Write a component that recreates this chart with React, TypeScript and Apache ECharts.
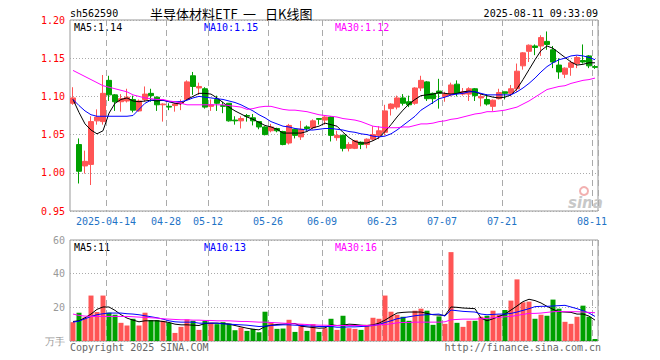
import React, { useEffect, useRef } from 'react';
import * as echarts from 'echarts';

const dates = [
  '2025-04-03','2025-04-07','2025-04-08','2025-04-09','2025-04-10','2025-04-11','2025-04-14','2025-04-15','2025-04-16','2025-04-17',
  '2025-04-18','2025-04-21','2025-04-22','2025-04-23','2025-04-24','2025-04-25','2025-04-28','2025-04-29','2025-04-30','2025-05-06',
  '2025-05-07','2025-05-08','2025-05-09','2025-05-12','2025-05-13','2025-05-14','2025-05-15','2025-05-16','2025-05-19','2025-05-20',
  '2025-05-21','2025-05-22','2025-05-23','2025-05-26','2025-05-27','2025-05-28','2025-05-29','2025-05-30','2025-06-03','2025-06-04',
  '2025-06-05','2025-06-06','2025-06-09','2025-06-10','2025-06-11','2025-06-12','2025-06-13','2025-06-16','2025-06-17','2025-06-18',
  '2025-06-19','2025-06-20','2025-06-23','2025-06-24','2025-06-25','2025-06-26','2025-06-27','2025-06-30','2025-07-01','2025-07-02',
  '2025-07-03','2025-07-04','2025-07-07','2025-07-08','2025-07-09','2025-07-10','2025-07-11','2025-07-14','2025-07-15','2025-07-16',
  '2025-07-17','2025-07-18','2025-07-21','2025-07-22','2025-07-23','2025-07-24','2025-07-25','2025-07-28','2025-07-29','2025-07-30',
  '2025-07-31','2025-08-01','2025-08-04','2025-08-05','2025-08-06','2025-08-07','2025-08-08','2025-08-11'
];

const open = [
  1.091,1.037,1.009,1.011,1.068,1.067,1.121,1.102,1.093,1.094,
  1.096,1.081,1.096,1.104,1.099,1.089,1.087,1.088,1.091,1.096,
  1.127,1.111,1.110,1.087,1.096,1.088,1.091,1.069,1.068,1.075,
  1.072,1.067,1.060,1.055,1.058,1.054,1.039,1.057,1.047,1.060,
  1.059,1.071,1.069,1.073,1.046,1.049,1.032,1.032,1.040,1.037,
  1.044,1.049,1.053,1.084,1.086,1.098,1.093,1.091,1.111,1.119,
  1.104,1.107,1.100,1.102,1.116,1.103,1.103,1.110,1.098,1.096,
  1.087,1.097,1.106,1.104,1.110,1.140,1.159,1.166,1.166,1.172,
  1.161,1.141,1.129,1.138,1.143,1.147,1.153,1.139
];
const close = [
  1.098,1.002,1.015,1.067,1.073,1.104,1.102,1.093,1.097,1.099,
  1.082,1.094,1.103,1.101,1.089,1.090,1.086,1.090,1.093,1.119,
  1.113,1.113,1.086,1.089,1.091,1.087,1.068,1.068,1.071,1.074,
  1.068,1.060,1.050,1.060,1.055,1.037,1.062,1.049,1.057,1.058,
  1.068,1.070,1.073,1.049,1.049,1.032,1.037,1.042,1.037,1.044,
  1.050,1.055,1.081,1.090,1.098,1.091,1.089,1.111,1.121,1.097,
  1.097,1.104,1.103,1.115,1.104,1.106,1.110,1.101,1.100,1.090,
  1.095,1.105,1.104,1.110,1.133,1.157,1.167,1.164,1.177,1.168,
  1.145,1.132,1.137,1.144,1.151,1.145,1.140,1.138
];
const low = [
  1.089,0.986,0.999,0.984,1.063,1.063,1.094,1.081,1.080,1.092,
  1.079,1.080,1.093,1.093,1.081,1.067,1.082,1.080,1.082,1.095,
  1.102,1.102,1.084,1.081,1.081,1.078,1.067,1.063,1.058,1.067,
  1.062,1.057,1.049,1.053,1.053,1.036,1.037,1.045,1.043,1.055,
  1.057,1.063,1.063,1.041,1.042,1.028,1.028,1.031,1.031,1.032,
  1.042,1.044,1.049,1.075,1.083,1.088,1.086,1.089,1.107,1.094,
  1.090,1.084,1.093,1.100,1.100,1.101,1.094,1.094,1.087,1.088,
  1.081,1.096,1.096,1.100,1.106,1.135,1.145,1.154,1.153,1.161,
  1.137,1.123,1.124,1.127,1.137,1.143,1.137,1.136
];
const high = [
  1.112,1.045,1.029,1.074,1.083,1.128,1.127,1.103,1.103,1.110,
  1.101,1.096,1.113,1.110,1.100,1.091,1.091,1.091,1.096,1.121,
  1.132,1.118,1.112,1.096,1.101,1.093,1.091,1.074,1.074,1.077,
  1.077,1.067,1.061,1.064,1.059,1.055,1.064,1.058,1.068,1.062,
  1.070,1.071,1.074,1.074,1.055,1.050,1.040,1.043,1.041,1.045,
  1.061,1.061,1.089,1.091,1.101,1.103,1.101,1.112,1.127,1.120,
  1.105,1.123,1.106,1.118,1.121,1.111,1.112,1.111,1.103,1.103,
  1.096,1.110,1.106,1.115,1.143,1.158,1.168,1.168,1.180,1.185,
  1.166,1.150,1.138,1.147,1.153,1.168,1.154,1.141
];

const ma5 = [
  1.096,1.079,1.064,1.056,1.051,1.055,1.078,1.091,1.096,1.098,
  1.094,1.093,1.094,1.095,1.094,1.095,1.093,1.091,1.090,1.096,
  1.100,1.104,1.104,1.103,1.098,1.092,1.086,1.081,1.077,1.073,
  1.070,1.066,1.062,1.060,1.057,1.052,1.052,1.052,1.052,1.054,
  1.059,1.061,1.065,1.063,1.061,1.053,1.046,1.041,1.039,1.039,
  1.042,1.046,1.054,1.063,1.073,1.082,1.090,1.096,1.101,1.102,
  1.103,1.105,1.104,1.103,1.104,1.106,1.107,1.106,1.103,1.101,
  1.099,1.098,1.099,1.102,1.110,1.122,1.135,1.148,1.160,1.166,
  1.163,1.157,1.151,1.145,1.141,1.142,1.144,1.144
];
const ma10 = [
  1.096,1.088,1.081,1.076,1.074,1.074,1.074,1.074,1.074,1.074,
  1.075,1.083,1.091,1.095,1.096,1.095,1.093,1.093,1.093,1.095,
  1.098,1.100,1.099,1.098,1.097,1.096,1.094,1.092,1.089,1.085,
  1.081,1.076,1.072,1.067,1.064,1.061,1.060,1.058,1.057,1.056,
  1.056,1.057,1.058,1.058,1.057,1.056,1.054,1.053,1.051,1.050,
  1.048,1.047,1.048,1.051,1.056,1.062,1.068,1.074,1.082,1.087,
  1.092,1.097,1.099,1.102,1.103,1.104,1.106,1.106,1.104,1.102,
  1.102,1.102,1.102,1.102,1.106,1.111,1.117,1.124,1.132,1.139,
  1.144,1.148,1.150,1.153,1.154,1.153,1.151,1.148
];
const ma30 = [
  1.134,1.130,1.126,1.122,1.118,1.114,1.112,1.110,1.108,1.106,
  1.102,1.100,1.098,1.097,1.096,1.096,1.094,1.093,1.091,1.089,
  1.089,1.089,1.089,1.089,1.089,1.089,1.088,1.087,1.086,1.083,
  1.084,1.086,1.087,1.087,1.085,1.083,1.082,1.082,1.081,1.080,
  1.078,1.076,1.075,1.074,1.073,1.071,1.070,1.069,1.067,1.064,
  1.061,1.060,1.059,1.059,1.059,1.060,1.060,1.062,1.064,1.064,
  1.065,1.067,1.068,1.070,1.071,1.073,1.075,1.077,1.078,1.080,
  1.080,1.081,1.082,1.084,1.086,1.090,1.094,1.099,1.104,1.109,
  1.111,1.113,1.114,1.117,1.119,1.121,1.122,1.124
];

const volume = [
  11.2,16.8,14.0,27.0,17.2,27.0,16.8,15.6,10.8,9.2,
  13.2,9.2,16.8,12.4,12.4,12.0,10.8,4.8,8.4,12.8,
  12.0,6.6,12.0,10.8,10.0,11.2,10.4,6.4,8.0,6.0,
  7.2,5.2,17.4,11.2,7.2,7.4,12.6,5.4,10.0,6.0,
  10.0,5.4,7.6,13.2,6.6,15.0,7.6,7.2,6.6,9.6,
  13.8,13.2,27.0,17.4,15.6,14.4,12.0,18.0,19.2,18.0,
  9.6,14.6,10.2,52.8,10.8,8.4,12.0,12.0,14.4,15.0,
  18.0,15.6,18.4,24.0,36.6,23.0,23.4,13.2,15.6,15.0,
  24.6,19.2,11.4,10.2,14.4,21.0,14.4,1.2
];
const volMa5 = [
  11.6,12.0,13.8,16.0,18.8,20.2,20.2,18.2,15.6,13.6,
  12.4,11.4,12.0,12.0,12.0,11.6,11.0,10.0,9.6,9.6,
  9.4,9.2,10.4,10.6,10.6,10.4,10.0,9.2,8.4,7.6,
  7.0,6.6,8.6,9.4,9.8,10.0,10.4,10.4,8.8,8.4,
  8.0,7.6,7.8,9.6,9.2,9.4,10.0,9.8,9.4,9.2,
  9.6,10.6,12.4,14.6,16.6,17.0,17.2,17.2,17.2,16.4,
  15.6,15.4,15.2,20.2,20.0,19.6,19.4,19.2,13.6,12.0,
  13.2,14.6,16.0,18.4,20.8,23.4,24.8,24.0,22.6,20.6,
  18.8,17.4,17.2,17.0,16.0,16.0,14.8,12.4
];
const volMa10 = [
  11.2,11.8,13.2,14.6,15.6,16.2,16.6,16.6,16.6,16.2,
  16.0,15.6,15.0,14.4,13.8,13.0,12.0,11.4,11.2,11.2,
  11.2,10.6,10.6,10.6,10.6,10.2,10.0,9.8,9.6,9.4,
  9.0,8.6,8.8,9.2,9.4,9.6,9.6,9.4,9.2,9.0,
  8.8,8.6,8.6,8.6,8.2,8.2,8.4,8.4,8.6,8.8,
  9.2,9.8,11.0,12.0,13.2,13.8,14.4,15.0,15.4,15.6,
  15.8,16.0,14.8,18.4,18.0,17.6,17.4,17.2,16.0,15.6,
  15.8,16.0,16.0,16.4,17.2,18.2,19.2,20.4,20.6,20.6,
  20.8,21.0,21.2,20.2,19.2,18.0,16.6,14.6
];
const volMa30 = [
  16.0,15.2,14.8,14.6,14.6,14.6,14.6,14.6,14.6,14.6,
  14.4,14.2,14.0,13.8,13.6,13.2,13.0,12.8,12.6,12.6,
  12.4,12.4,12.2,12.2,12.0,12.0,12.0,11.8,11.6,11.6,
  11.4,11.2,11.2,11.0,10.8,10.6,10.4,10.2,10.0,9.8,
  9.6,9.4,9.4,9.2,9.2,9.2,9.2,9.2,9.2,9.2,
  9.4,9.6,9.8,10.2,10.8,11.0,11.0,11.2,11.2,11.2,
  11.2,11.2,11.4,12.6,12.8,13.0,13.0,13.0,13.2,13.4,
  13.8,14.0,14.4,14.6,15.2,15.8,16.4,16.4,16.6,17.0,
  17.4,17.6,17.4,17.4,17.4,17.2,17.0,16.8
];

const tickDates = ['2025-04-14','2025-04-28','2025-05-12','2025-05-26','2025-06-09','2025-06-23','2025-07-07','2025-07-21','2025-08-11'];
const tickLabels = ['2025-04-14','04-28','05-12','05-26','06-09','06-23','07-07','07-21','08-11'];

const UP = '#ff5555';
const DOWN = '#00a000';
const MONO = '"DejaVu Sans Mono", monospace';
const CJK = '13px "Noto Sans CJK SC", sans-serif';

export default function App() {
  const ref = useRef<HTMLDivElement>(null);
  useEffect(() => {
    const chart = echarts.init(ref.current!, null, { renderer: 'svg' });
    const tickSet = new Set(tickDates.map((d) => dates.indexOf(d)));
    const vSplit = {
      show: true,
      interval: (i: number) => tickSet.has(i),
      lineStyle: { color: '#aaaaaa', type: [6, 4] as any, width: 1 },
    };
    const hSplit = { show: true, lineStyle: { color: '#aaaaaa', type: [1, 2] as any, width: 1 } };
    const txt = (text: string, x: number, y: number, fill: string, align = 'left', font = `10px ${MONO}`) => ({
      type: 'text', x, y, silent: true,
      style: { text, fill, font, align, verticalAlign: 'middle', textAlign: align, textVerticalAlign: 'middle' },
    });
    const lineSeries = (name: string, data: number[], color: string, xi: number) => ({
      name, type: 'line', data, xAxisIndex: xi, yAxisIndex: xi, showSymbol: false, symbol: 'none',
      lineStyle: { color, width: 1 }, z: 5, silent: true,
    });
    chart.setOption({
      animation: false,
      backgroundColor: '#ffffff',
      grid: [
        { left: 70, top: 20, width: 528, height: 191, show: true, borderColor: '#999999', borderWidth: 1, backgroundColor: 'transparent' },
        { left: 70, top: 240, width: 528, height: 101, show: true, borderColor: '#999999', borderWidth: 1, backgroundColor: 'transparent' },
      ],
      xAxis: [
        {
          type: 'category', gridIndex: 0, data: dates, boundaryGap: true,
          axisLine: { show: false }, axisTick: { show: false },
          axisLabel: {
            show: true, interval: (i: number) => tickSet.has(i), color: '#1f74c6', fontFamily: MONO, fontSize: 10, margin: 5,
            padding: [0, 6, 0, 0],
            formatter: (v: string) => { const k = tickDates.indexOf(v); return k >= 0 ? tickLabels[k] : ''; },
          },
          splitLine: vSplit,
        },
        {
          type: 'category', gridIndex: 1, data: dates, boundaryGap: true,
          axisLine: { show: false }, axisTick: { show: false }, axisLabel: { show: false },
          splitLine: vSplit,
        },
      ],
      yAxis: [
        {
          type: 'value', gridIndex: 0, min: 0.95, max: 1.2, interval: 0.05,
          axisLine: { show: false }, axisTick: { show: false },
          axisLabel: { color: '#ff0000', fontFamily: MONO, fontSize: 10, margin: 5, formatter: (v: number) => v.toFixed(2) },
          splitLine: hSplit,
        },
        {
          type: 'value', gridIndex: 1, min: 0, max: 60, interval: 20,
          axisLine: { show: false }, axisTick: { show: false },
          axisLabel: { color: '#999999', fontFamily: MONO, fontSize: 10, margin: 5, formatter: (v: number) => (v === 0 ? '万手' : String(v)) },
          splitLine: hSplit,
        },
      ],
      series: [
        {
          name: 'K', type: 'candlestick', xAxisIndex: 0, yAxisIndex: 0, barWidth: 5,
          data: dates.map((_, i) => [open[i], close[i], low[i], high[i]]),
          itemStyle: { color: UP, color0: DOWN, borderColor: UP, borderColor0: DOWN, borderWidth: 1 },
          z: 3,
        },
        lineSeries('MA5', ma5, '#000000', 0),
        lineSeries('MA10', ma10, '#0000ff', 0),
        lineSeries('MA30', ma30, '#ff00ff', 0),
        {
          name: 'VOL', type: 'bar', xAxisIndex: 1, yAxisIndex: 1, barWidth: 5,
          data: volume,
          itemStyle: { color: (p: any) => (close[p.dataIndex] >= open[p.dataIndex] ? UP : DOWN) },
          z: 3,
        },
        lineSeries('VMA5', volMa5, '#000000', 1),
        lineSeries('VMA10', volMa10, '#0000ff', 1),
        lineSeries('VMA30', volMa30, '#ff00ff', 1),
      ],
      graphic: [
        txt('sh562590', 70, 13, '#000000'),
        txt('半导体材料ETF', 150, 13, '#000000', 'left', CJK),
        txt('一', 243, 13, '#000000', 'left', CJK),
        txt('日K线图', 265, 13, '#000000', 'left', CJK),
        txt('2025-08-11 09:33:09', 598, 13, '#000000', 'right'),
        txt('MA5:1.14', 74, 27, '#000000'),
        txt('MA10:1.15', 204, 27, '#0000ff'),
        txt('MA30:1.12', 335, 27, '#ff00ff'),
        txt('MA5:11', 74, 247, '#000000'),
        txt('MA10:13', 204, 247, '#0000ff'),
        txt('MA30:16', 335, 247, '#ff00ff'),
        txt('Copyright 2025 SINA.COM', 70, 347, '#666666'),
        txt('http://finance.sina.com.cn', 601, 347, '#666666', 'right'),
        { type: 'circle', shape: { cx: 584, cy: 191, r: 4 }, style: { fill: 'none', stroke: '#f2b0b0', lineWidth: 2 }, silent: true },
        txt('sina', 568, 203, '#c8c8c8', 'left', 'italic bold 15px "DejaVu Sans", sans-serif'),
      ],
    });
    return () => chart.dispose();
  }, []);
  return <div ref={ref} style={{ position: 'fixed', left: 0, top: 0, width: 660, height: 360 }} />;
}
